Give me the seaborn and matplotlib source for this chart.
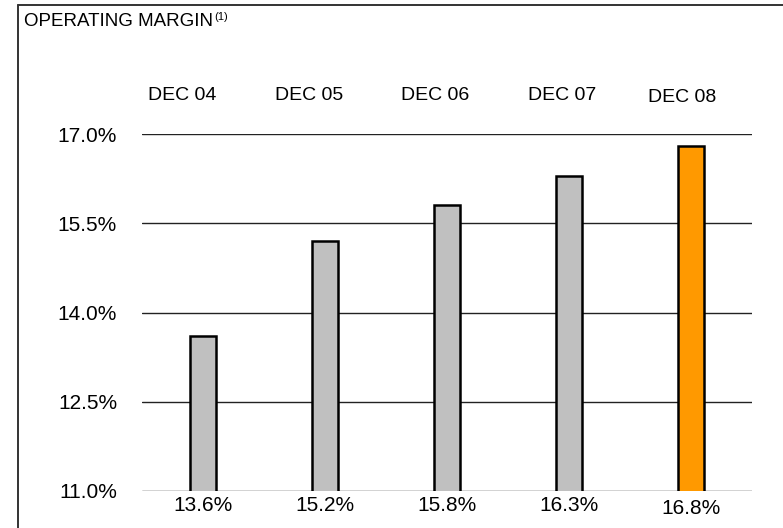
import matplotlib
matplotlib.use("Agg")
import matplotlib.pyplot as plt
import seaborn as sns
import pandas as pd
from matplotlib.lines import Line2D

# Data
periods = ["DEC 04", "DEC 05", "DEC 06", "DEC 07", "DEC 08"]
margins = [13.6, 15.2, 15.8, 16.3, 16.8]
value_labels = ["13.6%", "15.2%", "15.8%", "16.3%", "16.8%"]
y_ticks = [11.0, 12.5, 14.0, 15.5, 17.0]
y_tick_labels = ["11.0%", "12.5%", "14.0%", "15.5%", "17.0%"]
title = "OPERATING MARGIN"
title_note = "(1)"

# Styling
bar_colors = ["#C0C0C0", "#C0C0C0", "#C0C0C0", "#C0C0C0", "#FF9900"]
header_dx = [-0.17, -0.13, -0.10, -0.06, -0.07]
header_y = [17.655, 17.655, 17.655, 17.655, 17.62]
value_y = [10.75, 10.75, 10.75, 10.75, 10.70]

sns.set_theme(style="white")
plt.rcParams["font.family"] = ["Liberation Sans", "DejaVu Sans"]

df = pd.DataFrame({"period": periods, "margin": margins})

fig = plt.figure(figsize=(7.83, 5.28), dpi=100)
ax = fig.add_axes([142 / 783, 1 - 491 / 528, (752 - 142) / 783, (491 - 134) / 528])

sns.barplot(data=df, x="period", y="margin", hue="period", palette=bar_colors,
            width=0.21, edgecolor="black", linewidth=1.8, legend=False, ax=ax,
            saturation=1, zorder=3)

ax.set_ylim(11.0, 17.0)
ax.set_xlim(-0.5, len(periods) - 0.5)
ax.set_yticks(y_ticks)
ax.set_yticklabels(y_tick_labels, fontsize=15, color="black")
ax.tick_params(axis="y", length=0, pad=18)
ax.set_xticks([])
ax.set_xlabel("")
ax.set_ylabel("")
for s in ax.spines.values():
    s.set_visible(False)
for yt in y_ticks:
    ax.axhline(yt, color="#222222", linewidth=1.0, zorder=1)

# Period headers above the plot
for i, lab in enumerate(periods):
    ax.text(i + header_dx[i], header_y[i], lab, ha="center", va="center",
            fontsize=14, color="black", clip_on=False)

# Value labels below each bar
for i, lab in enumerate(value_labels):
    ax.text(i, value_y[i], lab, ha="center", va="center",
            fontsize=15, color="black", clip_on=False)

# Outer frame: top and left edges of the panel
x0, y0 = 17.5 / 783, 1 - 4.5 / 528
fig.lines.append(Line2D([x0, 1.0], [y0, y0], transform=fig.transFigure,
                        color="#333333", linewidth=1.4))
fig.lines.append(Line2D([x0, x0], [0.0, y0], transform=fig.transFigure,
                        color="#333333", linewidth=1.4))

# Title with superscript note
t = fig.text(24 / 783, 1 - 22 / 528, title, ha="left", va="center",
             fontsize=13.5, color="black")
fig.canvas.draw()
bb = t.get_window_extent(renderer=fig.canvas.get_renderer())
fig.text(bb.x1 / fig.bbox.width + 0.001, (bb.y1 - 3) / fig.bbox.height, title_note,
         ha="left", va="center", fontsize=8, color="black")

fig.savefig("out.png", dpi=100)
